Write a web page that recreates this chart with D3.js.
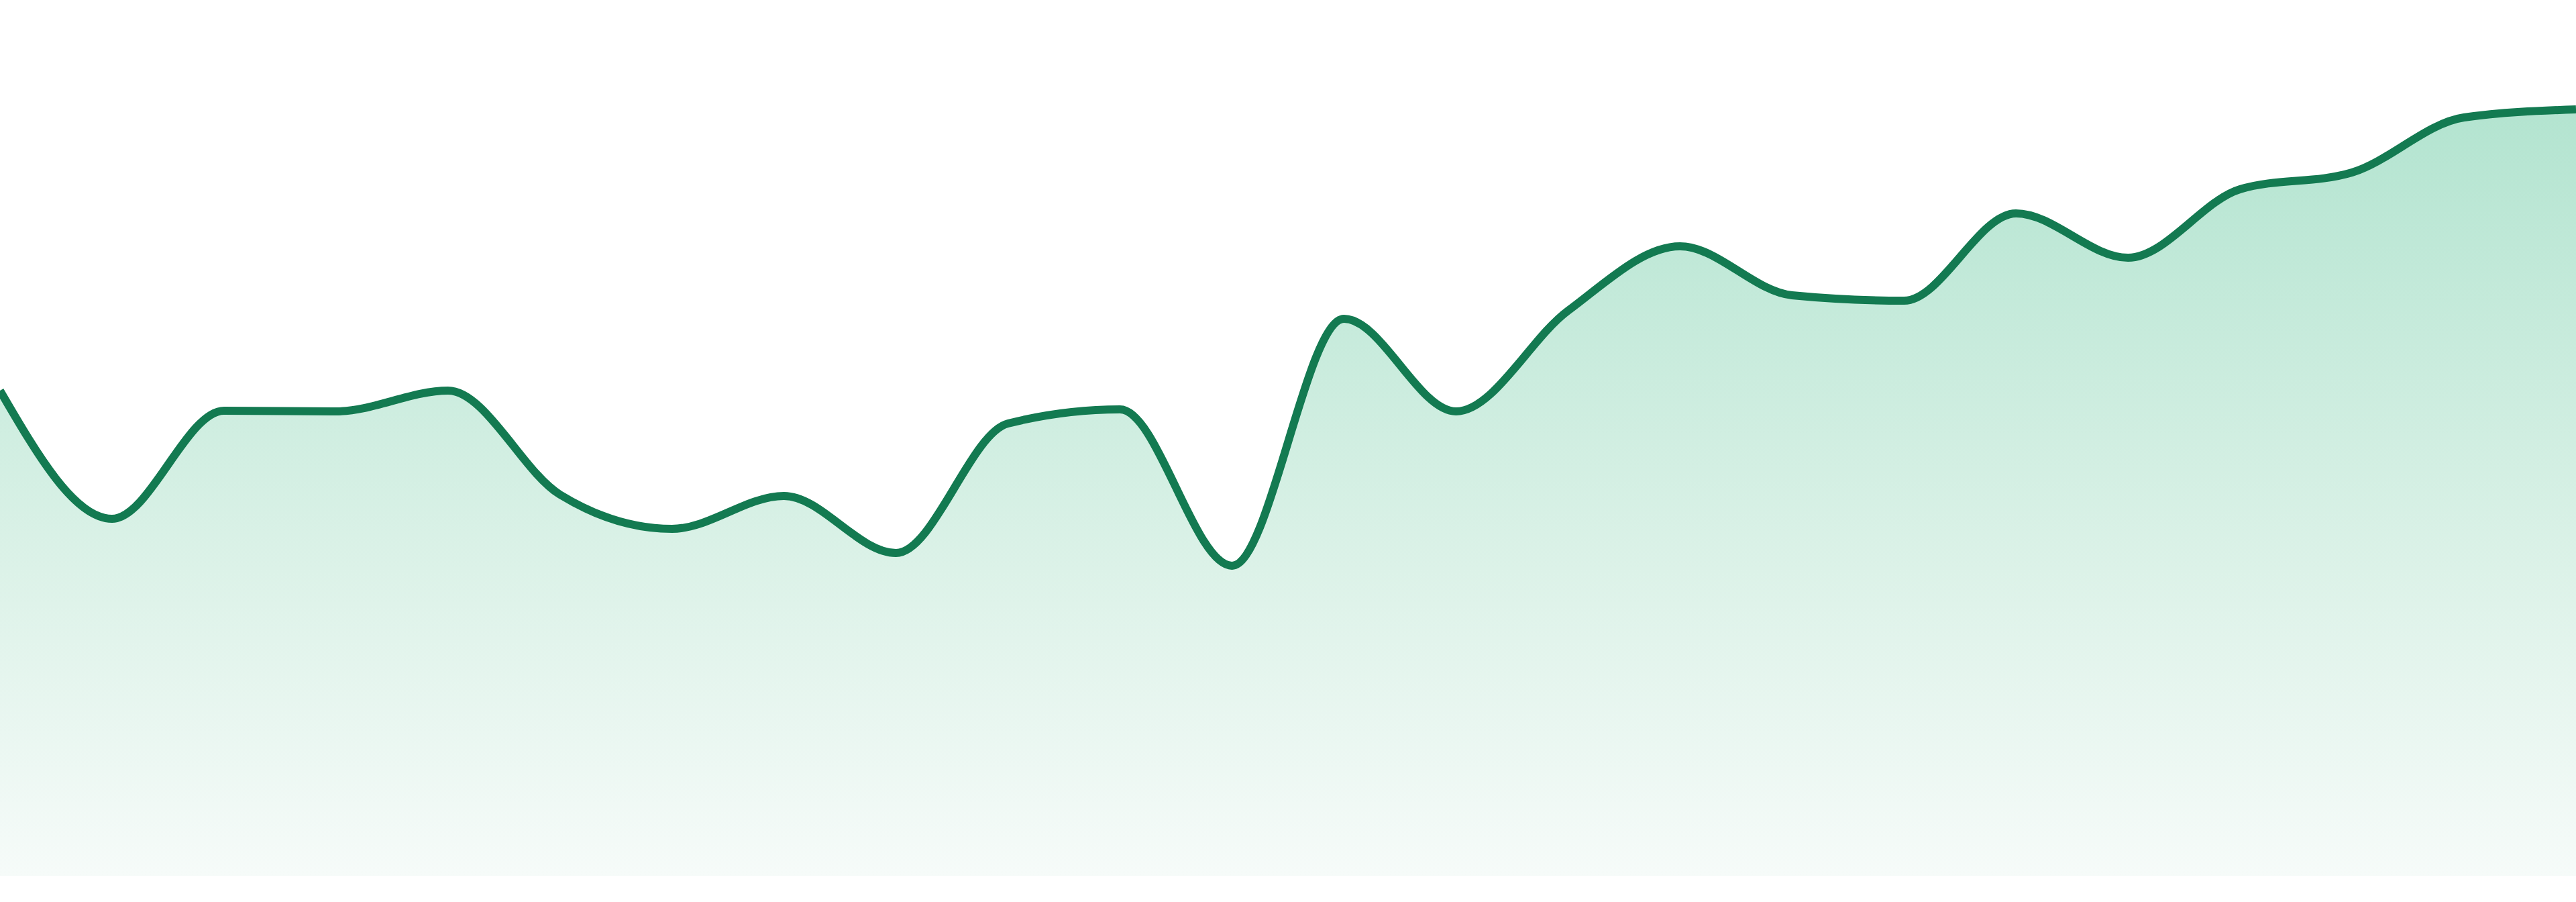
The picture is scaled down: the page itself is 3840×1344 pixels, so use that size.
<!DOCTYPE html>
<html>
<head>
<meta charset="utf-8">
<script src="https://cdn.jsdelivr.net/npm/d3@7"></script>
<style>
  html, body { margin: 0; padding: 0; background: #ffffff; overflow: hidden; }
  svg { display: block; }
</style>
</head>
<body>
<svg id="canvas"></svg>
<script>
// data, one value per step
let steps = d3.range(24);
let values = [72.3, 53.2, 69.3, 69.2, 72.3, 56.8, 51.7, 56.6, 48.1, 67.4, 69.5, 46.2,
              83.0, 69.2, 84.2, 93.8, 86.5, 85.7, 98.7, 92.1, 102.3, 104.8, 113.0, 114.2];
let valueDomain = [0, 130.5];

let width = 3840;
let height = 1344;
let baseline = 1305;

let canvas = d3.select('#canvas')
                .attr('width', width)
                .attr('height', height);

let xScale = d3.scaleLinear()
                .domain([0, steps.length - 1])
                .range([0, width]);

let yScale = d3.scaleLinear()
                .domain(valueDomain)
                .range([baseline, 0]);

let points = steps.map((i) => {
    return {step: i, value: values[i]};
});

// soft green fade under the line
let defs = canvas.append('defs');
let grad = defs.append('linearGradient')
                .attr('id', 'fade')
                .attr('x1', 0).attr('y1', 0)
                .attr('x2', 0).attr('y2', 1);
grad.append('stop').attr('offset', '0%').attr('stop-color', '#b3e4d0');
grad.append('stop').attr('offset', '60%').attr('stop-color', '#dcf2e8');
grad.append('stop').attr('offset', '100%').attr('stop-color', '#f6fbf9');

let area = d3.area()
            .x((d) => xScale(d.step))
            .y0(baseline)
            .y1((d) => yScale(d.value))
            .curve(d3.curveMonotoneX);

let line = d3.line()
            .x((d) => xScale(d.step))
            .y((d) => yScale(d.value))
            .curve(d3.curveMonotoneX);

canvas.append('path')
    .datum(points)
    .attr('d', area)
    .attr('fill', 'url(#fade)');

canvas.append('path')
    .datum(points)
    .attr('d', line)
    .attr('fill', 'none')
    .attr('stroke', '#137a51')
    .attr('stroke-width', 12)
    .attr('stroke-linejoin', 'round');
</script>
</body>
</html>
